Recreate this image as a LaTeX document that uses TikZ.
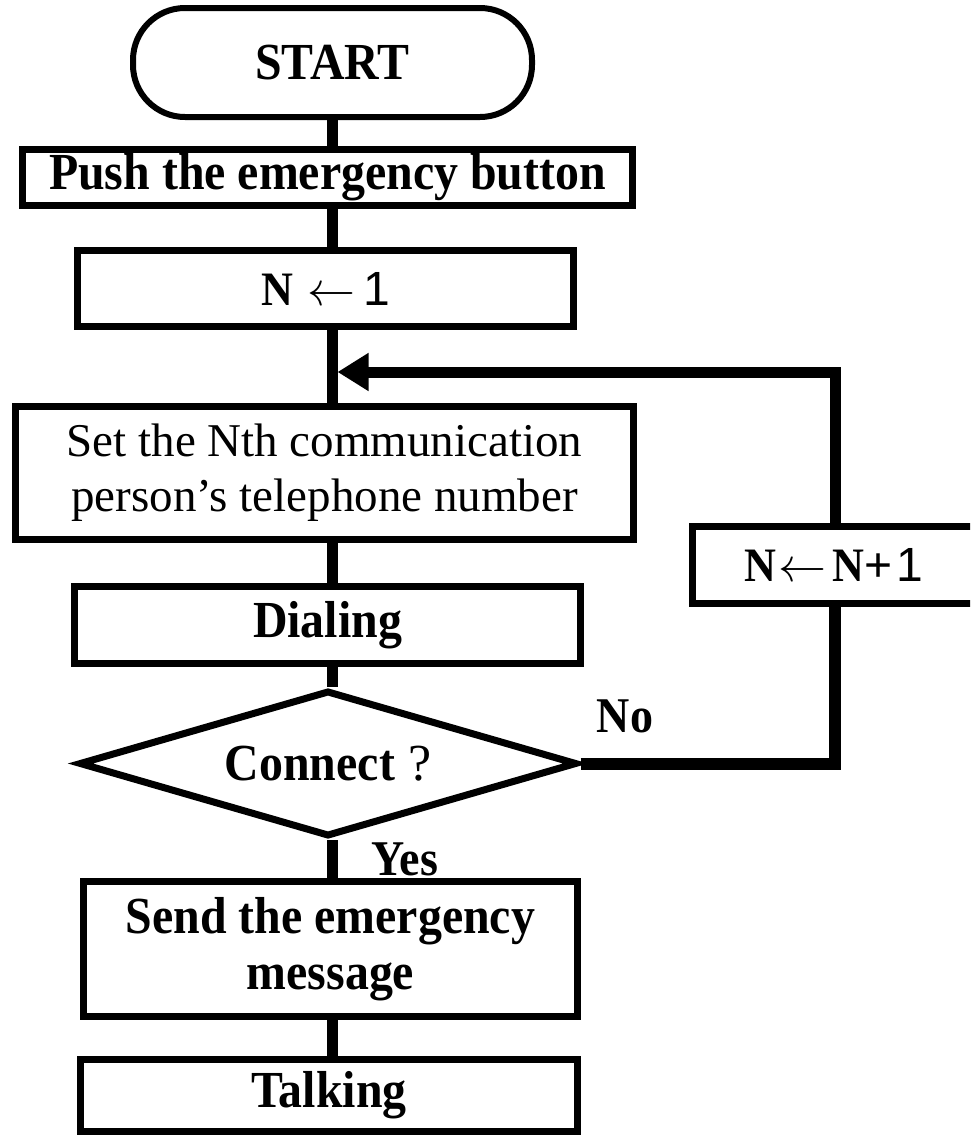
\documentclass[tikz,border=0pt]{standalone}
\usepackage{fontspec}
\setmainfont{Liberation Serif}[BoldFeatures={FakeStretch=0.92}]
\newfontfamily\symfont{Liberation Sans}
\usetikzlibrary{shapes.geometric,arrows.meta}
\newcommand{\bigleft}{{\fontsize{10}{12}\selectfont\scalebox{4.8}{$\leftarrow$}}}
\begin{document}
\begin{tikzpicture}[x=1pt,y=-1pt,
  box/.style={draw,line width=7pt,inner sep=0pt,align=center,
    font=\fontsize{52}{56}\selectfont\bfseries},
  conn/.style={line width=11pt,line join=miter},
  lbl/.style={inner sep=0pt,font=\fontsize{50}{56}\selectfont\bfseries},
  tip/.style={-{Triangle[length=31pt,width=36pt]}}
]
\useasboundingbox (0,0) rectangle (970,1136);
\clip (0,0) rectangle (970,1136);
\coordinate (mx) at (332,0);
\coordinate (lx) at (835,0);
\coordinate (j) at (337.5,372);

\node[box,line width=6pt,rounded corners=52pt,minimum width=399pt,minimum height=109pt] (start) at (332.5,62.5) {START};
\node[box,minimum width=610pt,minimum height=56pt] (push) at (327.5,177.5) {Push the emergency button};
\node[box,minimum width=496pt,minimum height=76pt,font=\fontsize{48}{56}\selectfont\bfseries] (n1) at (325.5,288.5) {N\hspace{14pt}\bigleft\hspace{8pt}{\mdseries\symfont 1}};
\node[box,minimum width=618pt,minimum height=133pt,font=\fontsize{47}{55}\selectfont] (set) at (324.5,473) {Set the Nth communication\\person’s telephone number};
\node[box,minimum width=506pt,minimum height=77pt] (dial) at (327.5,625) {Dialing};
\node[box,shape=diamond,minimum width=498pt,minimum height=146pt,aspect=3.41] (dec) at (328,763.5) {Connect\hspace{13pt}{\mdseries ?}};
\node[box,minimum width=494pt,minimum height=135pt] (send) at (330.5,949) {Send the emergency\\message};
\node[box,minimum width=497pt,minimum height=72pt] (talk) at (329,1095.5) {Talking};
\node[box,minimum width=282pt,minimum height=77pt,font=\fontsize{48}{56}\selectfont\bfseries] (inc) at (833.5,565) {N\hspace{2pt}\bigleft\hspace{6pt}N{\mdseries\symfont +\hspace{4pt}1}};

\node[lbl] (no) at (625,716) {No};
\node[lbl] (yes) at (405,859) {Yes};

\draw[conn] (start.south -| mx) -- (push.north -| mx);
\draw[conn] (push.south -| mx) -- (n1.north -| mx);
\draw[conn] (n1.south -| mx) -- (set.north -| mx);
\draw[conn] (set.south -| mx) -- (dial.north -| mx);
\draw[conn] (dial.south -| mx) -- (dec.north -| mx);
\draw[conn] (dec.south -| mx) -- (send.north -| mx);
\draw[conn] (send.south -| mx) -- (talk.north -| mx);
\draw[conn,line width=12pt] (dec.east) -- (dec.east -| lx) -- (inc.south -| lx);
\draw[conn,tip] (inc.north -| lx) -- (j -| lx) -- (j);
\end{tikzpicture}
\end{document}
